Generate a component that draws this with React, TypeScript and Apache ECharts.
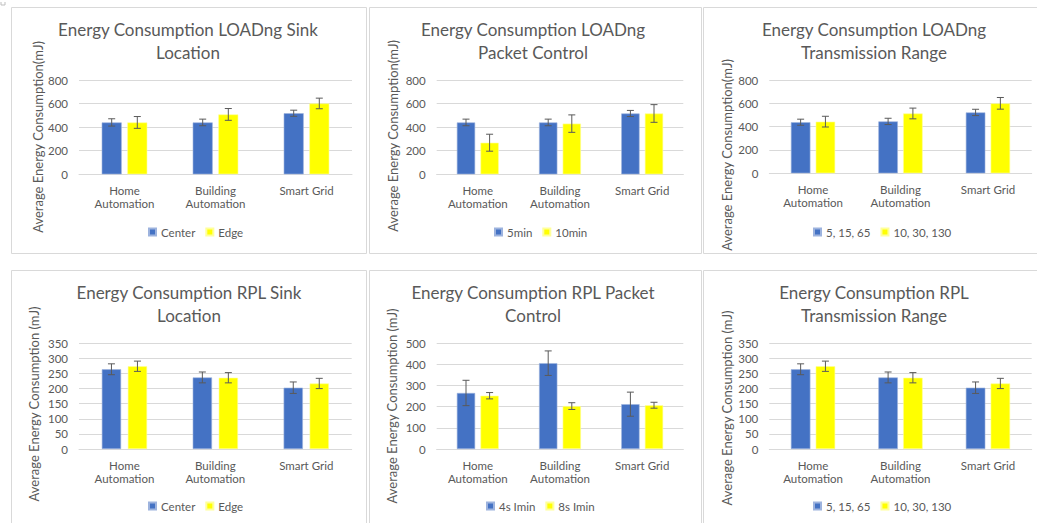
import React, { useEffect, useRef } from 'react';
import * as echarts from 'echarts';

// ---------- data ----------
const categories = ['Home\nAutomation', 'Building\nAutomation', 'Smart Grid'];

const loadSinkCenter = [440, 440, 518];
const loadSinkCenterErr = [31, 28, 26];
const loadSinkEdge = [440, 508, 601];
const loadSinkEdgeErr = [50, 50, 45];

const loadPkt5min = [440, 440, 516];
const loadPkt5minErr = [28, 28, 26];
const loadPkt10min = [268, 430, 516];
const loadPkt10minErr = [72, 74, 75];

const loadRange1 = [438, 445, 522];
const loadRange1Err = [26, 27, 27];
const loadRange2 = [443, 513, 600];
const loadRange2Err = [46, 46, 50];

const rplSinkCenter = [264, 237, 203];
const rplSinkCenterErr = [18, 18, 19];
const rplSinkEdge = [274, 236, 217];
const rplSinkEdgeErr = [17, 17, 17];

const rplPkt4s = [265, 406, 212];
const rplPkt4sErr = [60, 58, 57];
const rplPkt8s = [252, 203, 207];
const rplPkt8sErr = [15, 16, 14];

const rplRange1 = [264, 237, 203];
const rplRange1Err = [18, 18, 19];
const rplRange2 = [274, 236, 217];
const rplRange2Err = [17, 17, 17];

const loadAxisMax = 800;
const loadAxisStep = 200;
const rplAxisMax = 350;
const rplAxisStep = 50;
const rplPktAxisMax = 500;
const rplPktAxisStep = 100;

// ---------- panels ----------
const panels = [
  {
    title: 'Energy Consumption LOADng Sink\nLocation',
    yName: 'Average Energy Consumption(mJ)',
    names: ['Center', 'Edge'],
    a: loadSinkCenter, aErr: loadSinkCenterErr, b: loadSinkEdge, bErr: loadSinkEdgeErr,
    max: loadAxisMax, step: loadAxisStep,
    L: { frame: [11, 7, 355, 246], grid: [79, 80, 273, 94.3], titleX: 188, titleY: 18, nameX: 38, nameY: 137, legend: [148, 226], bw: 20, gap: 5.6 },
  },
  {
    title: 'Energy Consumption LOADng\nPacket Control',
    yName: 'Average Energy Consumption(mJ)',
    names: ['5min', '10min'],
    a: loadPkt5min, aErr: loadPkt5minErr, b: loadPkt10min, bErr: loadPkt10minErr,
    max: loadAxisMax, step: loadAxisStep,
    L: { frame: [369, 7, 332, 246], grid: [436.7, 80, 246.6, 94.3], titleX: 533, titleY: 18, nameX: 393, nameY: 136, legend: [494, 226], bw: 18.3, gap: 5.3 },
  },
  {
    title: 'Energy Consumption LOADng\nTransmission Range',
    yName: 'Average Energy Consumption(mJ)',
    names: ['5, 15, 65', '10, 30, 130'],
    a: loadRange1, aErr: loadRange1Err, b: loadRange2, bErr: loadRange2Err,
    max: loadAxisMax, step: loadAxisStep,
    L: { frame: [703, 7, 345, 246], grid: [769.3, 80, 262.4, 93.3], titleX: 874, titleY: 18, nameX: 727, nameY: 155, legend: [813, 226], bw: 19.5, gap: 5.3 },
  },
  {
    title: 'Energy Consumption RPL Sink\nLocation',
    yName: 'Average Energy Consumption (mJ)',
    names: ['Center', 'Edge'],
    a: rplSinkCenter, aErr: rplSinkCenterErr, b: rplSinkEdge, bErr: rplSinkEdgeErr,
    max: rplAxisMax, step: rplAxisStep,
    L: { frame: [11, 270, 355, 270], grid: [79, 343.3, 272.7, 105.7], titleX: 189, titleY: 281, nameX: 34, nameY: 404, legend: [148, 500], bw: 19.3, gap: 6.7 },
  },
  {
    title: 'Energy Consumption RPL Packet\nControl',
    yName: 'Average Energy Consumption (mJ)',
    names: ['4s Imin', '8s Imin'],
    a: rplPkt4s, aErr: rplPkt4sErr, b: rplPkt8s, bErr: rplPkt8sErr,
    max: rplPktAxisMax, step: rplPktAxisStep,
    L: { frame: [369, 270, 332, 270], grid: [436.7, 343.3, 246.6, 105.7], titleX: 533, titleY: 281, nameX: 392, nameY: 406, legend: [486, 500], bw: 18.3, gap: 5.3 },
  },
  {
    title: 'Energy Consumption RPL\nTransmission Range',
    yName: 'Average Energy Consumption (mJ)',
    names: ['5, 15, 65', '10, 30, 130'],
    a: rplRange1, aErr: rplRange1Err, b: rplRange2, bErr: rplRange2Err,
    max: rplAxisMax, step: rplAxisStep,
    L: { frame: [703, 270, 345, 270], grid: [769.3, 343.3, 262.4, 105.7], titleX: 874, titleY: 281, nameX: 727, nameY: 408, legend: [813, 500], bw: 19.5, gap: 5.3 },
  },
];

const FONT = 'Lato';
const TXT = '#595959';
const GRIDC = '#d9d9d9';
const BLUE = '#4472C4';
const YELLOW = '#FFFF00';

function errSeries(idx: number, vals: number[], errs: number[], offset: number, name: string) {
  return {
    type: 'custom',
    name,
    xAxisIndex: idx,
    yAxisIndex: idx,
    z: 5,
    silent: true,
    encode: { x: 0, y: 1 },
    data: vals.map((v, i) => [i, v, errs[i]]),
    renderItem: (params: any, api: any) => {
      const i = api.value(0);
      const v = api.value(1);
      const e = api.value(2);
      const c = api.coord([i, v]);
      const x = c[0] + offset;
      const yT = api.coord([i, v + e])[1];
      const yB = api.coord([i, v - e])[1];
      const cap = 3.5;
      const st = { stroke: '#5a5a5a', lineWidth: 1 };
      return {
        type: 'group',
        children: [
          { type: 'line', shape: { x1: x, y1: yT, x2: x, y2: yB }, style: st },
          { type: 'line', shape: { x1: x - cap, y1: yT, x2: x + cap, y2: yT }, style: st },
          { type: 'line', shape: { x1: x - cap, y1: yB, x2: x + cap, y2: yB }, style: st },
        ],
      };
    },
  };
}

function buildOption() {
  const grid: any[] = [];
  const xAxis: any[] = [];
  const yAxis: any[] = [];
  const series: any[] = [];
  const title: any[] = [];
  const legend: any[] = [];
  const graphic: any[] = [];

  // small corner mark
  graphic.push({
    type: 'polyline',
    shape: { points: [[1, 2], [1, 5], [5, 5], [5, 2]] },
    style: { stroke: '#bfbfbf', fill: 'none', lineWidth: 1 },
  });

  panels.forEach((p, idx) => {
    const L = p.L;
    graphic.push({
      type: 'rect',
      shape: { x: L.frame[0] + 0.5, y: L.frame[1] + 0.5, width: L.frame[2], height: L.frame[3] },
      style: { stroke: GRIDC, fill: 'none', lineWidth: 1 },
      z: -1,
    });
    graphic.push({
      type: 'text',
      x: L.nameX,
      y: L.nameY,
      rotation: Math.PI / 2,
      style: {
        text: p.yName,
        fill: TXT,
        font: `13px ${FONT}`,
        align: 'center',
        verticalAlign: 'middle',
      },
    });
    grid.push({ left: L.grid[0], top: L.grid[1], width: L.grid[2], height: L.grid[3], containLabel: false });
    xAxis.push({
      type: 'category',
      gridIndex: idx,
      data: categories,
      axisTick: { show: false },
      axisLine: { show: true, lineStyle: { color: GRIDC, width: 1 } },
      axisLabel: { color: TXT, fontFamily: FONT, fontSize: 11.5, lineHeight: 13, margin: 10, interval: 0 },
    });
    yAxis.push({
      type: 'value',
      gridIndex: idx,
      min: 0,
      max: p.max,
      interval: p.step,
      axisLine: { show: false },
      axisTick: { show: false },
      splitLine: { show: true, lineStyle: { color: GRIDC, width: 1 } },
      axisLabel: { color: TXT, fontFamily: FONT, fontSize: 11.5, margin: 11 },
    });
    title.push({
      text: p.title,
      left: L.titleX,
      top: L.titleY,
      textAlign: 'center',
      padding: 0,
      textStyle: { color: TXT, fontFamily: FONT, fontSize: 17, fontWeight: 'normal', lineHeight: 23 },
    });
    legend.push({
      data: p.names,
      left: L.legend[0],
      top: L.legend[1],
      padding: 0,
      icon: 'rect',
      itemWidth: 7,
      itemHeight: 7,
      itemGap: 10,
      selectedMode: false,
      textStyle: { color: TXT, fontFamily: FONT, fontSize: 11.5 },
    });
    series.push({
      type: 'bar',
      name: p.names[0],
      xAxisIndex: idx,
      yAxisIndex: idx,
      data: p.a,
      barWidth: L.bw,
      barGap: `${(L.gap / L.bw) * 100}%`,
      itemStyle: { color: BLUE, borderColor: '#9db3de', borderWidth: 0.6 },
    });
    series.push({
      type: 'bar',
      name: p.names[1],
      xAxisIndex: idx,
      yAxisIndex: idx,
      data: p.b,
      barWidth: L.bw,
      barGap: `${(L.gap / L.bw) * 100}%`,
      itemStyle: { color: YELLOW, borderColor: '#ffff9a', borderWidth: 0.6 },
    });
    const off = (L.bw + L.gap) / 2;
    series.push(errSeries(idx, p.a, p.aErr, -off, `errA${idx}`));
    series.push(errSeries(idx, p.b, p.bErr, off, `errB${idx}`));
  });

  return {
    animation: false,
    backgroundColor: '#ffffff',
    textStyle: { fontFamily: FONT },
    title,
    legend,
    grid,
    xAxis,
    yAxis,
    series,
    graphic,
  };
}

export default function App() {
  const ref = useRef<HTMLDivElement>(null);
  useEffect(() => {
    if (!ref.current) return;
    const chart = echarts.init(ref.current, undefined, { renderer: 'svg' });
    chart.setOption(buildOption() as any);
    return () => chart.dispose();
  }, []);
  return (
    <div
      ref={ref}
      style={{ position: 'absolute', left: 0, top: 0, width: 1037, height: 523 }}
    />
  );
}
